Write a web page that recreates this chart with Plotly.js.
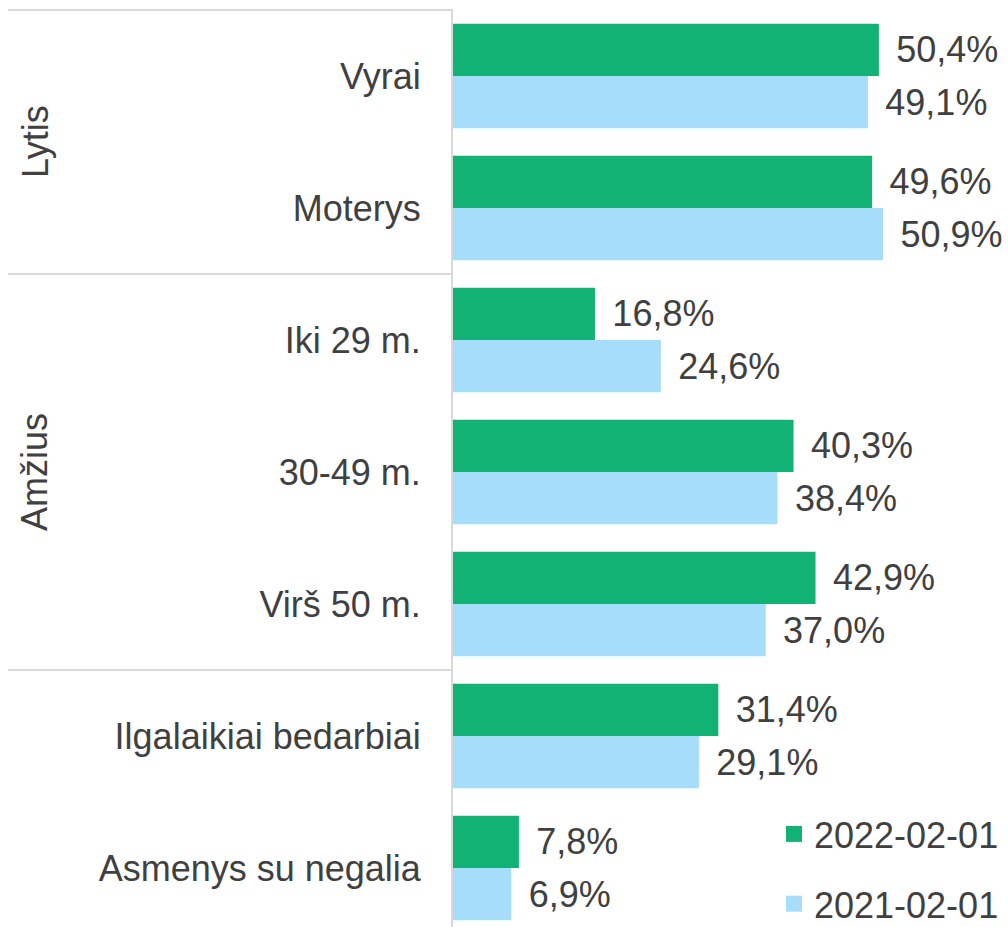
<!DOCTYPE html>
<html>
<head>
<meta charset="utf-8">
<script src="https://cdn.plot.ly/plotly-3.0.1.min.js"></script>
<style>html,body{margin:0;padding:0;background:#fff;}#chart{width:1008px;height:927px;}</style>
</head>
<body>
<div id="chart"></div>
<script>
const categories = ["Vyrai", "Moterys", "Iki 29 m.", "30-49 m.", "Virš 50 m.", "Ilgalaikiai bedarbiai", "Asmenys su negalia"];
const series2022 = [50.4, 49.6, 16.8, 40.3, 42.9, 31.4, 7.8];
const series2021 = [49.1, 50.9, 24.6, 38.4, 37.0, 29.1, 6.9];
const seriesNames = ["2022-02-01", "2021-02-01"];
const groups = [{name: "Lytis", from: 0, to: 1}, {name: "Amžius", from: 2, to: 4}];
const separators = [-0.5, 1.5, 4.5];

const W = 1008, H = 927, ML = 453, MT = 10;
const plotH = H - MT;
const catPx = 132;
const span = plotH / catPx;
const yr = [-0.5 + span, -0.5];
const pxPerUnit = 8.45;
const xMax = (W - ML) / pxPerUnit;

const font = {family: "Liberation Sans, Arial, sans-serif", size: 36, color: "#404040"};
const colors = ["#11B273", "#A6DDFB"];

function trace(vals, i) {
  return {
    type: "bar", orientation: "h",
    y: categories, x: vals, name: seriesNames[i],
    legendgroup: "g" + i, showlegend: false,
    marker: {color: colors[i], line: {width: 0}},
    texttemplate: "\u2009\u2009%{x:.1f}%", textposition: "outside",
    textfont: font, cliponaxis: false, constraintext: "none",
    hoverinfo: "skip"
  };
}

function legendTrace(i) {
  return {
    type: "scatter", mode: "markers", x: [null], y: [null],
    name: seriesNames[i], legendgroup: "g" + i, showlegend: true,
    marker: {symbol: "square", size: 16, color: colors[i], line: {width: 0}},
    hoverinfo: "skip"
  };
}

const paperY = c => 1 - (c + 0.5) / span;
const paperX = px => (px - ML) / (W - ML);

const shapes = separators.map(c => ({
  type: "line", xref: "paper", yref: "paper",
  x0: paperX(8), x1: 0, y0: paperY(c), y1: paperY(c),
  line: {color: "#d9d9d9", width: 2}
}));

const annotations = groups.map(g => ({
  xref: "paper", yref: "paper", x: paperX(35), y: paperY((g.from + g.to) / 2),
  text: g.name, showarrow: false, textangle: -90, font: font,
  xanchor: "center", yanchor: "middle"
}));

const layout = {
  width: W, height: H,
  margin: {l: ML, r: 0, t: MT, b: 0, pad: 0, autoexpand: false},
  paper_bgcolor: "#fff", plot_bgcolor: "#fff",
  barmode: "group", bargap: 0.21, bargroupgap: 0,
  separators: ",.",
  font: font,
  xaxis: {range: [0, xMax], showticklabels: false, showgrid: false, zeroline: false, showline: false, fixedrange: true},
  yaxis: {type: "category", categoryarray: categories, range: yr, showgrid: false, zeroline: false,
          showline: true, linecolor: "#d9d9d9", linewidth: 2, ticks: "", ticklabelstandoff: 23,
          tickfont: font, automargin: false},
  showlegend: true,
  legend: {x: paperX(774), xanchor: "left", y: -7 / plotH, yanchor: "bottom", traceorder: "grouped",
           tracegroupgap: 20, font: font, bgcolor: "rgba(0,0,0,0)", itemwidth: 30},
  shapes: shapes, annotations: annotations
};

Plotly.newPlot("chart", [trace(series2022, 0), trace(series2021, 1), legendTrace(0), legendTrace(1)], layout, {displayModeBar: false, staticPlot: true});
</script>
</body>
</html>
